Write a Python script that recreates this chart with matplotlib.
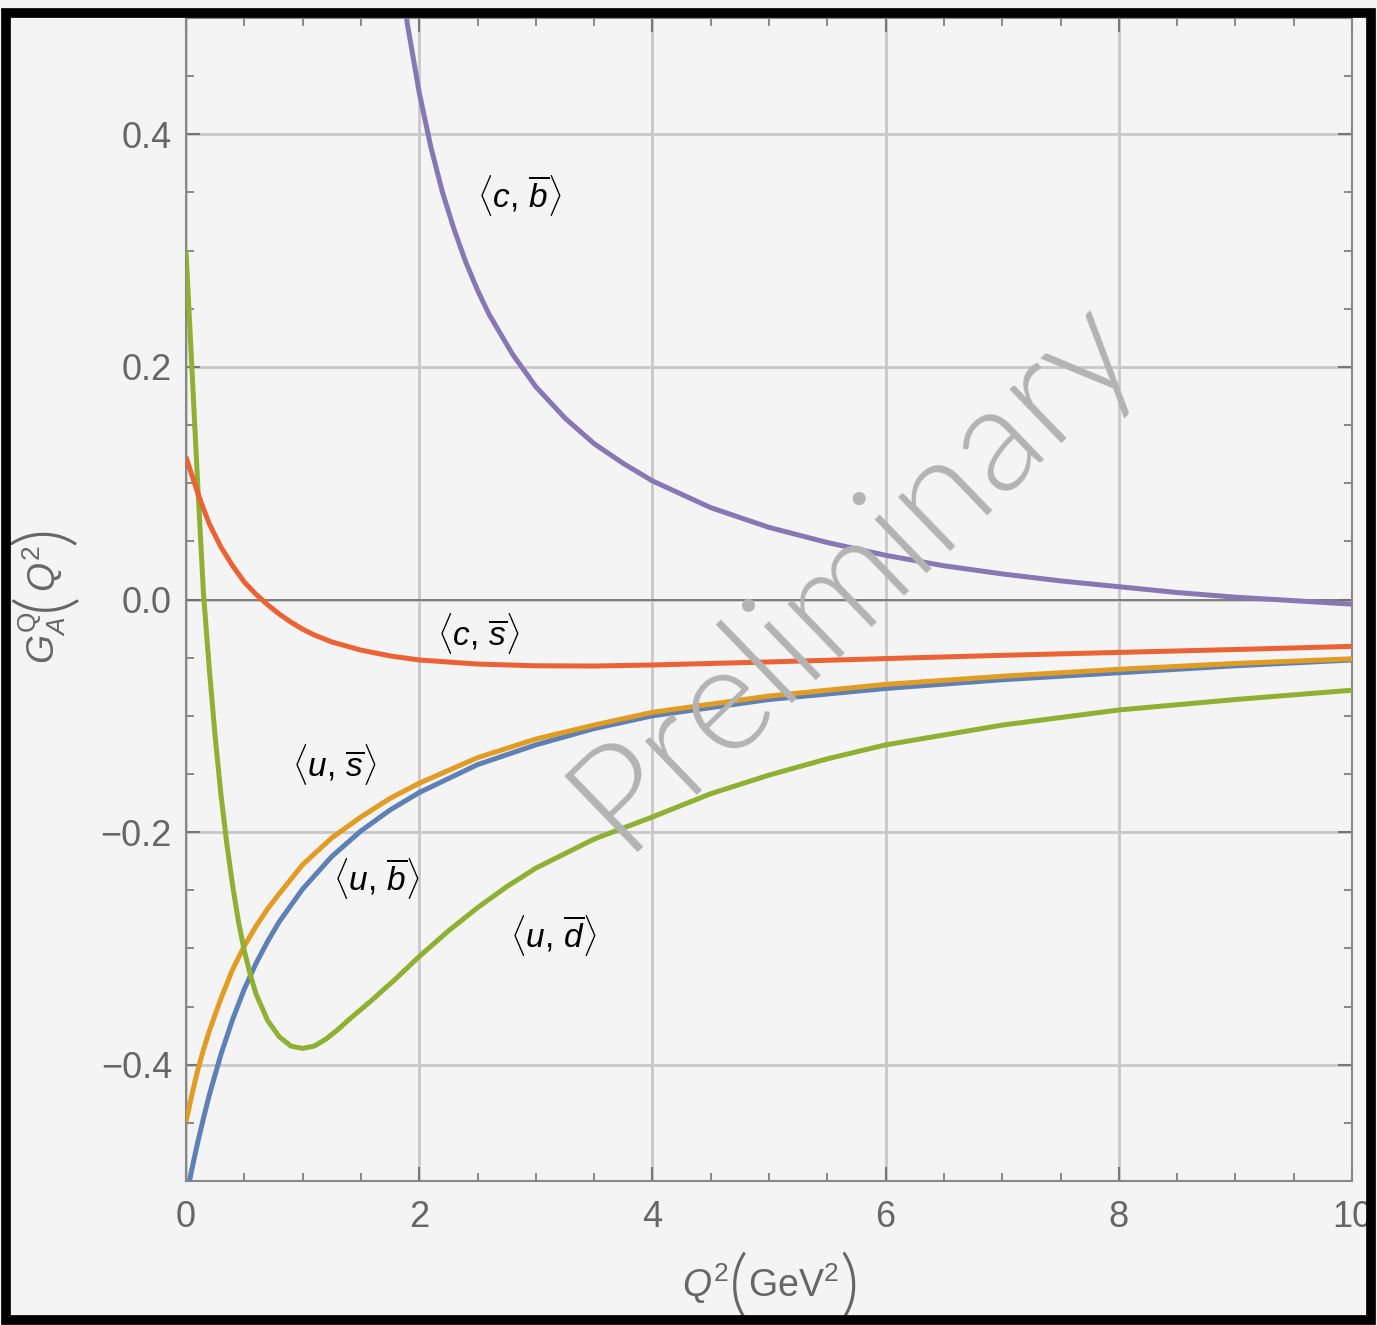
import numpy as np
import matplotlib
matplotlib.use("Agg")
import matplotlib.pyplot as plt
from matplotlib.patches import Rectangle

plt.rcParams['font.family'] = ['Liberation Sans', 'DejaVu Sans']
plt.rcParams['mathtext.fontset'] = 'custom'
plt.rcParams['mathtext.rm'] = 'Liberation Sans'
plt.rcParams['mathtext.it'] = 'Liberation Sans:italic'
plt.rcParams['mathtext.bf'] = 'Liberation Sans:bold'

# ---- data (Q^2 in GeV^2) ----
q2_ub = [0.0, 0.05, 0.1, 0.15, 0.2, 0.3, 0.4, 0.5, 0.6, 0.7, 0.8, 1.0, 1.25, 1.5,
         1.75, 2.0, 2.5, 3.0, 3.5, 4.0, 5.0, 6.0, 7.0, 8.0, 9.0, 10.0]
ga_ub = [-0.515, -0.49, -0.467, -0.446, -0.426, -0.391, -0.361, -0.335, -0.313,
         -0.294, -0.277, -0.249, -0.221, -0.199, -0.181, -0.166, -0.142, -0.125,
         -0.111, -0.100, -0.086, -0.0765, -0.069, -0.063, -0.057, -0.052]

q2_us = [0.0, 0.05, 0.1, 0.15, 0.2, 0.3, 0.4, 0.5, 0.6, 0.7, 0.8, 1.0, 1.25, 1.5,
         1.75, 2.0, 2.5, 3.0, 3.5, 4.0, 5.0, 6.0, 7.0, 8.0, 9.0, 10.0]
ga_us = [-0.449, -0.426, -0.405, -0.387, -0.371, -0.343, -0.318, -0.298, -0.281,
         -0.266, -0.253, -0.228, -0.205, -0.187, -0.171, -0.158, -0.136, -0.120,
         -0.108, -0.097, -0.083, -0.073, -0.066, -0.060, -0.055, -0.051]

q2_ud = [0.0, 0.05, 0.1, 0.15, 0.2, 0.25, 0.3, 0.35, 0.4, 0.45, 0.5, 0.55, 0.6,
         0.7, 0.8, 0.9, 1.0, 1.1, 1.2, 1.3, 1.4, 1.6, 1.8, 2.0, 2.25, 2.5, 2.75,
         3.0, 3.5, 4.0, 4.5, 5.0, 5.5, 6.0, 7.0, 8.0, 9.0, 10.0]
ga_ud = [0.300, 0.20, 0.10, 0.005, -0.06, -0.118, -0.168, -0.21, -0.246, -0.277,
         -0.302, -0.322, -0.339, -0.362, -0.376, -0.384, -0.386, -0.384, -0.378,
         -0.370, -0.361, -0.344, -0.326, -0.307, -0.285, -0.265, -0.247, -0.231,
         -0.206, -0.187, -0.167, -0.151, -0.137, -0.125, -0.108, -0.095, -0.086,
         -0.078]

q2_cs = [0.0, 0.05, 0.1, 0.15, 0.2, 0.3, 0.4, 0.5, 0.6, 0.7, 0.8, 0.9, 1.0, 1.1,
         1.25, 1.5, 1.75, 2.0, 2.5, 3.0, 3.5, 4.0, 5.0, 6.0, 7.0, 8.0, 9.0, 10.0]
ga_cs = [0.1226, 0.107, 0.092, 0.078, 0.065, 0.045, 0.029, 0.015, 0.0045, -0.0045,
         -0.0125, -0.0195, -0.0255, -0.0305, -0.0365, -0.0435, -0.0485, -0.052,
         -0.0555, -0.057, -0.0572, -0.0563, -0.0537, -0.0508, -0.048, -0.0455,
         -0.043, -0.0403]

q2_cb = [1.85, 1.9, 2.0, 2.1, 2.2, 2.3, 2.4, 2.5, 2.6, 2.8, 3.0, 3.25, 3.5, 3.75,
         4.0, 4.5, 5.0, 5.5, 6.0, 6.5, 7.0, 7.5, 8.0, 8.5, 9.0, 9.5, 10.0]
ga_cb = [0.528, 0.494, 0.436, 0.389, 0.350, 0.318, 0.290, 0.266, 0.245, 0.211,
         0.183, 0.156, 0.134, 0.117, 0.102, 0.079, 0.062, 0.049, 0.038, 0.029,
         0.022, 0.016, 0.011, 0.006, 0.002, -0.001, -0.004]

labels = [r'$\langle u,\,\overline{b}\rangle$', r'$\langle u,\,\overline{s}\rangle$',
          r'$\langle u,\,\overline{d}\rangle$', r'$\langle c,\,\overline{s}\rangle$',
          r'$\langle c,\,\overline{b}\rangle$']
label_pos = [(1.63, -0.240), (1.27, -0.1415), (3.15, -0.289), (2.51, -0.029), (2.86, 0.347)]
colors = ['#5E81B5', '#E19C24', '#8FB032', '#EB6235', '#8778B3']

W, H = 1377, 1325
bg = '#f4f4f4'
grey_txt = '#666666'
fig = plt.figure(figsize=(W / 100, H / 100), dpi=100, facecolor=bg)
ax = fig.add_axes([186 / W, 1 - 1181 / H, 1166 / W, 1163 / H])
ax.set_facecolor(bg)

series = [(q2_ub, ga_ub), (q2_us, ga_us), (q2_ud, ga_ud), (q2_cs, ga_cs), (q2_cb, ga_cb)]
for (x, y), c in zip(series, colors):
    ax.plot(x, y, color=c, lw=3.6, solid_capstyle='butt', solid_joinstyle='round', zorder=3)

for lab, (x, y) in zip(labels, label_pos):
    ax.text(x, y, lab, fontsize=24, ha='center', va='center', color='black', zorder=4)

ax.text(5.72, 0.024, 'Preliminary', fontsize=108, rotation=44, color='#b3b3b3',
        family=['Lato', 'Liberation Sans'], fontweight=300,
        ha='center', va='center', zorder=5)

ax.set_xlim(0, 10)
ax.set_ylim(-0.5, 0.5)
ax.set_xticks([0, 2, 4, 6, 8, 10])
ax.set_xticklabels(['0', '2', '4', '6', '8', '10'])
ax.set_yticks([-0.4, -0.2, 0.0, 0.2, 0.4])
ax.set_yticklabels(['\u22120.4', '\u22120.2', '0.0', '0.2', '0.4'])
ax.set_xticks(np.arange(0, 10.01, 0.5), minor=True)
ax.set_yticks(np.arange(-0.5, 0.501, 0.05), minor=True)
ax.grid(True, which='major', color='#c8c8c8', lw=2, zorder=1)
ax.axhline(0, color='#707070', lw=1.2, zorder=2)

ax.tick_params(which='both', direction='in', top=True, right=True, colors='#777777',
               labelcolor=grey_txt, labelsize=26)
ax.tick_params(which='major', length=10, width=1.5)
ax.tick_params(which='minor', length=6, width=1.2)
ax.tick_params(axis='x', pad=14)
ax.tick_params(axis='y', pad=10)
for s in ax.spines.values():
    s.set_color('#888888')
    s.set_linewidth(1.5)

# axis labels built piece by piece so the brackets can be tall and thin
renderer = fig.canvas.get_renderer()
paren_kw = dict(fontsize=54, family=['Lato', 'Liberation Sans'], fontweight=300)


def px(x, y):
    return x / W, 1 - y / H


# x label: Q^2 ( GeV^2 ), baseline at y=1297 px
pieces_x = [(r'$Q^2$', dict(fontsize=27), 'baseline', 1297),
            ('(', paren_kw, 'center', 1288),
            (r'$\mathrm{GeV}^2$', dict(fontsize=27), 'baseline', 1297),
            (')', paren_kw, 'center', 1288)]
cx = 682
for s, kw, va, yy in pieces_x:
    t = fig.text(*px(cx, yy), s, ha='left', va=va, color=grey_txt, **kw)
    cx += t.get_window_extent(renderer).width

# y label: G_A^Q ( Q^2 ), rotated, baseline at x=56 px
pieces_y = [(r'$G_A^{\mathrm{Q}}$', dict(fontsize=27), 'baseline', 56),
            ('(', paren_kw, 'center', 45),
            (r'$Q^2$', dict(fontsize=27), 'baseline', 56),
            (')', paren_kw, 'center', 45)]
cy = 664
for s, kw, va, xx in pieces_y:
    t = fig.text(*px(xx, cy), s, ha='left', va=va, rotation=90, rotation_mode='anchor',
                 color=grey_txt, **kw)
    cy -= t.get_window_extent(renderer).height

# photo-style frame around the whole picture
fig.patches.append(Rectangle((0.004, 0.004), 0.992, 0.986, transform=fig.transFigure,
                             fill=False, edgecolor='black', linewidth=7, zorder=10))

fig.savefig('out.png', dpi=100, facecolor=fig.get_facecolor())
